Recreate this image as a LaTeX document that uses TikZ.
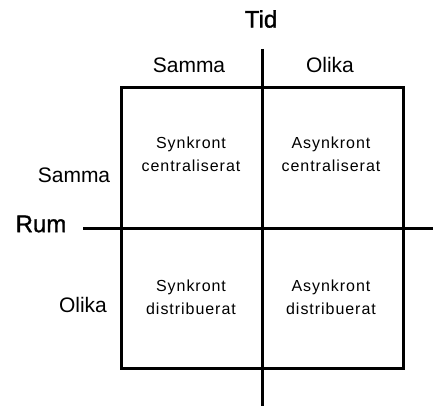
\documentclass[tikz,border=0pt]{standalone}
\usepackage{fontspec}
\setmainfont{Liberation Sans}
\newfontfamily\cellfont[LetterSpace=6]{Liberation Sans}
\newfontfamily\titlefont[FakeBold=1.2]{Liberation Sans}
\begin{document}
\begin{tikzpicture}[x=1pt,y=-1pt,
  axis/.style={line width=3pt},
  boxline/.style={line width=3pt},
  head/.style={font=\fontsize{21}{24}\selectfont, inner sep=0pt},
  title/.style={font=\titlefont\fontsize{24}{26}\selectfont, inner sep=0pt},
  cell/.style={font=\cellfont\fontsize{16}{23}\selectfont, align=center, inner sep=0pt}]
\useasboundingbox (0,0) rectangle (433,406);
% box
\coordinate (tl) at (121,88);
\coordinate (br) at (403,368);
\draw[boxline] (tl) rectangle (br);
% axes
\coordinate (vtop) at (262,49);
\coordinate (vbot) at (262,406);
\coordinate (hl) at (83,228);
\coordinate (hr) at (433,228);
\draw[axis] (vtop) -- (vbot);
\draw[axis] (hl) -- (hr);
% labels
\node[title] (tid) at (261,19) {Tid};
\node[title] (rum) at (41,224) {Rum};
\node[head] (ts) at (189,65) {Samma};
\node[head] (to) at (330,65) {Olika};
\node[head] (ls) at (74,175) {Samma};
\node[head] (lo) at (83,305) {Olika};
% cells
\node[cell] (c1) at (191,154) {Synkront\\centraliserat};
\node[cell] (c2) at (331,154) {Asynkront\\centraliserat};
\node[cell] (c3) at (191,297) {Synkront\\distribuerat};
\node[cell] (c4) at (331,297) {Asynkront\\distribuerat};
\end{tikzpicture}
\end{document}
